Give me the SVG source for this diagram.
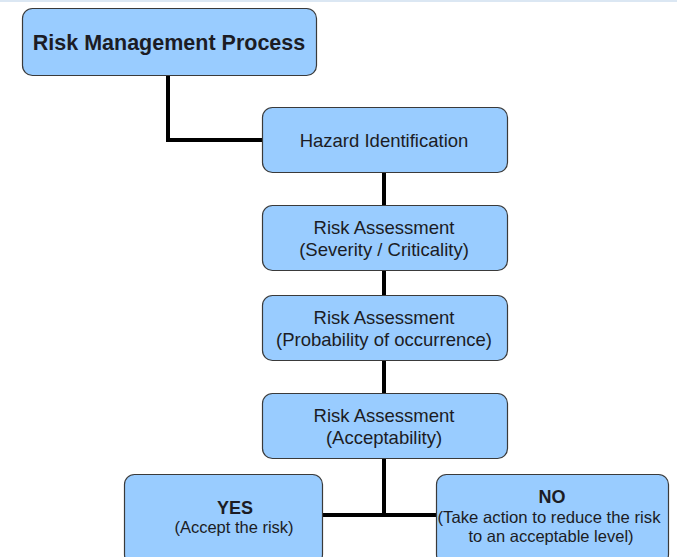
<svg xmlns="http://www.w3.org/2000/svg" width="677" height="557" viewBox="0 0 677 557">
<style>
.box{fill:#99ccff;stroke:#3a3a3a;stroke-width:1.2}
.t{font-family:"Liberation Sans",Arial,sans-serif;fill:#1c1c24;text-anchor:middle}
.m{font-size:18.5px}
.s{font-size:16.5px}
.h{font-size:21.5px;font-weight:bold}
.b{font-size:18px;font-weight:bold}
.c{fill:none;stroke:#000;stroke-width:4}
</style>
<rect x="0" y="0" width="677" height="557" fill="#fff"/>
<rect x="0" y="0" width="677" height="2" fill="#dbe7f3"/>
<g id="connectors">
<polyline class="c" points="168,75 168,140 262,140"/>
<line class="c" x1="384" y1="172" x2="384" y2="205"/>
<line class="c" x1="384" y1="270" x2="384" y2="295"/>
<line class="c" x1="384" y1="360" x2="384" y2="393"/>
<line class="c" x1="384" y1="458" x2="384" y2="517"/>
<line class="c" x1="322" y1="515" x2="436" y2="515"/>
</g>
<g id="rmp">
<rect class="box" x="22.5" y="8.5" width="294" height="67" rx="10"/>
<text class="t h" x="169" y="50">Risk Management Process</text>
</g>
<g id="hazard">
<rect class="box" x="262.5" y="107.5" width="245" height="65" rx="10"/>
<text class="t m" x="384" y="147">Hazard Identification</text>
</g>
<g id="severity">
<rect class="box" x="262.5" y="205.5" width="245" height="65" rx="10"/>
<text class="t m" x="384" y="234">Risk Assessment</text>
<text class="t m" x="384" y="256">(Severity / Criticality)</text>
</g>
<g id="probability">
<rect class="box" x="262.5" y="295.5" width="245" height="65" rx="10"/>
<text class="t m" x="384" y="324">Risk Assessment</text>
<text class="t m" x="384" y="346">(Probability of occurrence)</text>
</g>
<g id="acceptability">
<rect class="box" x="262.5" y="393.5" width="245" height="65" rx="10"/>
<text class="t m" x="384" y="422">Risk Assessment</text>
<text class="t m" x="384" y="444">(Acceptability)</text>
</g>
<g id="yes">
<rect class="box" x="124.5" y="474.5" width="198" height="90" rx="10"/>
<text class="t b" x="235" y="514">YES</text>
<text class="t s" x="234" y="533">(Accept the risk)</text>
</g>
<g id="no">
<rect class="box" x="436.5" y="474.5" width="232" height="90" rx="10"/>
<text class="t b" x="552" y="503">NO</text>
<text class="t s" x="549" y="523" textLength="223" lengthAdjust="spacingAndGlyphs">(Take action to reduce the risk</text>
<text class="t s" x="551" y="542">to an acceptable level)</text>
</g>
</svg>
